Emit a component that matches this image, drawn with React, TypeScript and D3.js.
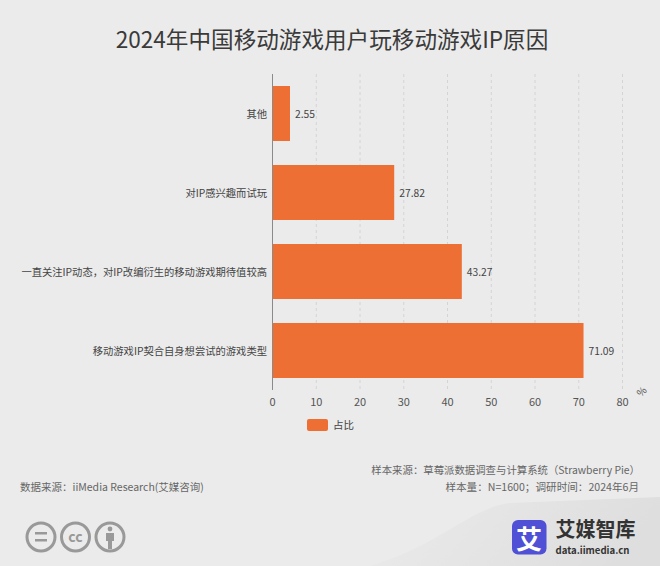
import * as React from 'react';
import * as d3 from 'd3';

const categories = ['其他', '对IP感兴趣而试玩', '一直关注IP动态，对IP改编衍生的移动游戏期待值较高', '移动游戏IP契合自身想尝试的游戏类型'];
const shares = [2.55, 27.82, 43.27, 71.09];
const xTicks = [0, 10, 20, 30, 40, 50, 60, 70, 80];

const width = 660;
const height = 566;
const margin = { top: 74, right: 37.5, bottom: 176, left: 272.5 };
const minBarWidth = 17.5; // the small bar is drawn wider than its value in the original
const font = '"Noto Sans CJK SC", "Noto Sans", sans-serif';

const App: React.FC = () => {
  const x = d3.scaleLinear().domain([0, 80]).range([margin.left, width - margin.right]);
  const y = d3
    .scaleBand()
    .domain(categories)
    .range([margin.top, height - margin.bottom])
    .paddingInner(0.304)
    .paddingOuter(0.152);

  return (
    <svg
      width={width}
      height={height}
      style={{ position: 'fixed', left: 0, top: 0, background: '#ebebeb', fontFamily: font }}
    >
      <defs>
        <linearGradient id="corner" x1="0" y1="0" x2="1" y2="0.2">
          <stop offset="0" stopColor="#ebebeb" />
          <stop offset="1" stopColor="#dedede" />
        </linearGradient>
      </defs>
      <path d="M370,566 C440,545 470,508 510,503 L660,497 L660,566 Z" fill="url(#corner)" />

      <text x={332} y={48} textAnchor="middle" fontSize={22.6} fill="#3a3a3a">
        2024年中国移动游戏用户玩移动游戏IP原因
      </text>

      {xTicks.slice(1).map((t) => (
        <line
          key={t}
          x1={x(t)}
          x2={x(t)}
          y1={margin.top}
          y2={height - margin.bottom}
          stroke="#d4d4d4"
          strokeDasharray="3 3"
        />
      ))}

      {categories.map((c, i) => (
        <g key={c}>
          <rect
            x={x(0)}
            y={y(c)}
            width={Math.max(x(shares[i]) - x(0), minBarWidth)}
            height={y.bandwidth()}
            fill="#ee6f34"
          />
          <text
            x={267}
            y={(y(c) as number) + y.bandwidth() / 2}
            textAnchor="end"
            dominantBaseline="central"
            fontSize={10.3}
            fill="#444"
          >
            {c}
          </text>
          <text
            x={x(0) + Math.max(x(shares[i]) - x(0), minBarWidth) + 5}
            y={(y(c) as number) + y.bandwidth() / 2}
            dominantBaseline="central"
            fontSize={10.3}
            fill="#444"
          >
            {shares[i]}
          </text>
        </g>
      ))}

      <line x1={x(0)} x2={x(0)} y1={margin.top} y2={height - margin.bottom} stroke="#8a8a8a" />

      {xTicks.map((t) => (
        <text key={t} x={x(t)} y={401} textAnchor="middle" dominantBaseline="central" fontSize={11} fill="#555">
          {t}
        </text>
      ))}
      <text x={641} y={391} textAnchor="middle" dominantBaseline="central" fontSize={10} fill="#555" transform="rotate(-45 641 391)">
        %
      </text>

      <rect x={307} y={419} width={21} height={12} rx={2} fill="#ee6f34" />
      <text x={333} y={424.5} dominantBaseline="central" fontSize={10.5} fill="#444">
        占比
      </text>

      <text x={20} y={486.5} dominantBaseline="central" fontSize={10.5} fill="#666">
        数据来源：iiMedia Research(艾媒咨询)
      </text>
      <text x={640} y={469} textAnchor="end" dominantBaseline="central" fontSize={10.4} fill="#666">
        样本来源：草莓派数据调查与计算系统（Strawberry Pie）
      </text>
      <text x={639} y={486.5} textAnchor="end" dominantBaseline="central" fontSize={10.6} fill="#666">
        样本量：N=1600；调研时间：2024年6月
      </text>

      <g fill="none" stroke="#999" strokeWidth={3}>
        <circle cx={41} cy={537} r={14} />
        <circle cx={75.5} cy={537} r={14} />
        <circle cx={110} cy={537} r={14} />
      </g>
      <g fill="#999">
        <rect x={35} y={532} width={12} height={2.5} />
        <rect x={35} y={539} width={12} height={2.5} />
        <circle cx={110} cy={529} r={2.4} />
        <path d="M106,533 h8 v8 h-2 v8 h-4 v-8 h-2 Z" />
      </g>
      <text x={75.5} y={536} textAnchor="middle" dominantBaseline="central" fontSize={14} fontWeight={700} fill="#999">
        cc
      </text>

      <rect x={512} y={520} width={34.5} height={34.5} rx={6} fill="#4f50d6" />
      <text x={529} y={537} textAnchor="middle" dominantBaseline="central" fontSize={26} fontWeight={700} fill="#fff">
        艾
      </text>
      <text x={555.5} y={528.5} dominantBaseline="central" fontSize={20} fontWeight={700} fill="#333">
        艾媒智库
      </text>
      <text x={555.5} y={550} dominantBaseline="central" fontSize={9.6} fontWeight={700} fill="#333">
        data.iimedia.cn
      </text>
    </svg>
  );
};

export default App;
